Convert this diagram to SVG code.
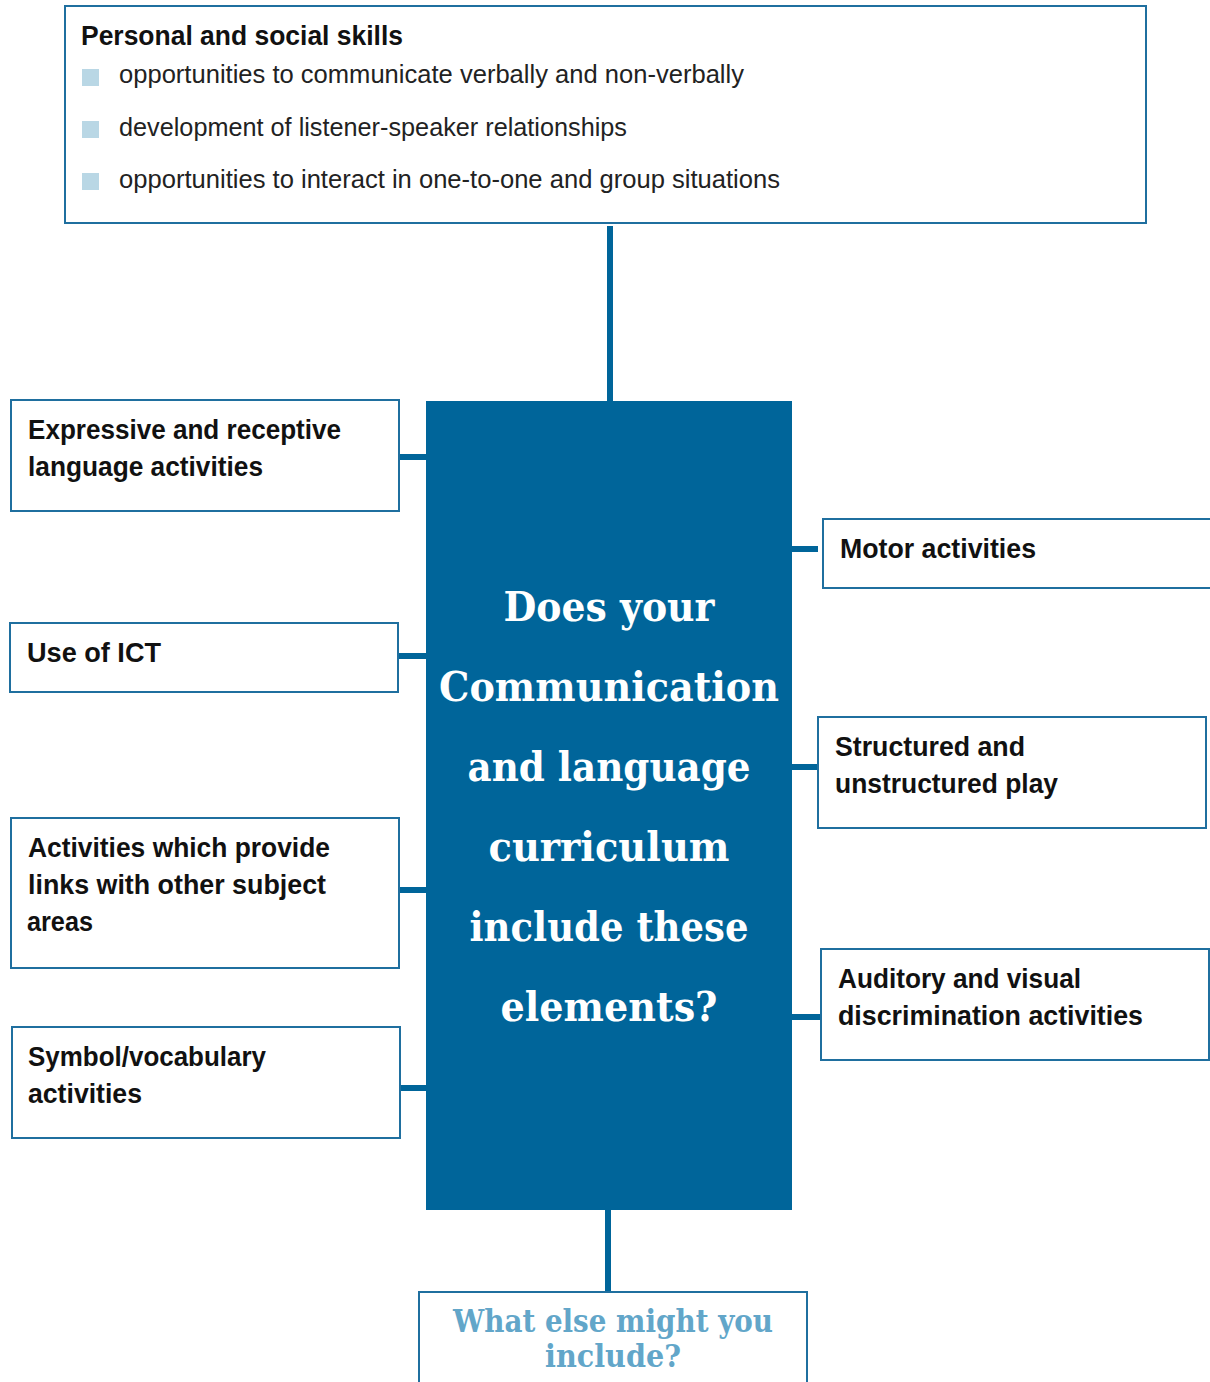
<svg xmlns="http://www.w3.org/2000/svg" width="1210" height="1382" viewBox="0 0 1210 1382">
<style>
.box{fill:#fff;stroke:#1f6f9f;stroke-width:2}
.hub{fill:#00659a}
.conn{stroke:#00659a;stroke-width:6;fill:none}
.lbl{font-family:"Liberation Sans",Arial,sans-serif;font-weight:bold;font-size:27.5px;fill:#111}
.reg{font-family:"Liberation Sans",Arial,sans-serif;font-size:26px;fill:#222}
.bul{fill:#b9d7e5}
.q{font-family:"DejaVu Serif","Liberation Serif",serif;font-weight:bold;font-size:41px;fill:#fff;text-anchor:middle}
.q2{font-family:"DejaVu Serif","Liberation Serif",serif;font-weight:bold;font-size:31px;fill:#62a6c9;text-anchor:middle}
</style>
<g id="connectors">
<line class="conn" x1="610" y1="226" x2="610" y2="402" stroke-width="7"/>
<line class="conn" x1="399" y1="457" x2="427" y2="457"/>
<line class="conn" x1="398" y1="656" x2="427" y2="656"/>
<line class="conn" x1="399" y1="890" x2="427" y2="890"/>
<line class="conn" x1="400" y1="1088" x2="427" y2="1088"/>
<line class="conn" x1="791" y1="549" x2="818" y2="549"/>
<line class="conn" x1="791" y1="767" x2="818" y2="767"/>
<line class="conn" x1="791" y1="1017" x2="821" y2="1017"/>
<line class="conn" x1="608" y1="1209" x2="608" y2="1294" stroke-width="7"/>
</g>
<g id="personal">
<rect class="box" x="65" y="6" width="1081" height="217"/>
<text class="lbl" x="81" y="45" textLength="322" lengthAdjust="spacingAndGlyphs">Personal and social skills</text>
<rect class="bul" x="82" y="69" width="17" height="17"/>
<text class="reg" x="119" y="83" textLength="625" lengthAdjust="spacingAndGlyphs">opportunities to communicate verbally and non-verbally</text>
<rect class="bul" x="82" y="121" width="17" height="17"/>
<text class="reg" x="119" y="136" textLength="508" lengthAdjust="spacingAndGlyphs">development of listener-speaker relationships</text>
<rect class="bul" x="82" y="173" width="17" height="17"/>
<text class="reg" x="119" y="188" textLength="661" lengthAdjust="spacingAndGlyphs">opportunities to interact in one-to-one and group situations</text>
</g>
<g id="hub">
<rect class="hub" x="426" y="401" width="366" height="809"/>
<text class="q" x="609" y="621" textLength="211" lengthAdjust="spacingAndGlyphs">Does your</text>
<text class="q" x="609" y="701" textLength="340" lengthAdjust="spacingAndGlyphs">Communication</text>
<text class="q" x="609" y="781" textLength="283" lengthAdjust="spacingAndGlyphs">and language</text>
<text class="q" x="609" y="861" textLength="241" lengthAdjust="spacingAndGlyphs">curriculum</text>
<text class="q" x="609" y="941" textLength="279" lengthAdjust="spacingAndGlyphs">include these</text>
<text class="q" x="609" y="1021" textLength="217" lengthAdjust="spacingAndGlyphs">elements?</text>
</g>
<g id="expressive">
<rect class="box" x="11" y="400" width="388" height="111"/>
<text class="lbl" x="28" y="439" textLength="313" lengthAdjust="spacingAndGlyphs">Expressive and receptive</text>
<text class="lbl" x="28" y="476" textLength="235" lengthAdjust="spacingAndGlyphs">language activities</text>
</g>
<g id="ict">
<rect class="box" x="10" y="623" width="388" height="69"/>
<text class="lbl" x="27" y="662" textLength="134" lengthAdjust="spacingAndGlyphs">Use of ICT</text>
</g>
<g id="links">
<rect class="box" x="11" y="818" width="388" height="150"/>
<text class="lbl" x="28" y="857" textLength="302" lengthAdjust="spacingAndGlyphs">Activities which provide</text>
<text class="lbl" x="28" y="894" textLength="298" lengthAdjust="spacingAndGlyphs">links with other subject</text>
<text class="lbl" x="27" y="931" textLength="66" lengthAdjust="spacingAndGlyphs">areas</text>
</g>
<g id="symbol">
<rect class="box" x="12" y="1027" width="388" height="111"/>
<text class="lbl" x="28" y="1066" textLength="238" lengthAdjust="spacingAndGlyphs">Symbol/vocabulary</text>
<text class="lbl" x="28" y="1103" textLength="114" lengthAdjust="spacingAndGlyphs">activities</text>
</g>
<g id="motor">
<rect class="box" x="823" y="519" width="392" height="69"/>
<text class="lbl" x="840" y="558" textLength="196" lengthAdjust="spacingAndGlyphs">Motor activities</text>
</g>
<g id="play">
<rect class="box" x="818" y="717" width="388" height="111"/>
<text class="lbl" x="835" y="756" textLength="190" lengthAdjust="spacingAndGlyphs">Structured and</text>
<text class="lbl" x="835" y="793" textLength="223" lengthAdjust="spacingAndGlyphs">unstructured play</text>
</g>
<g id="auditory">
<rect class="box" x="821" y="949" width="388" height="111"/>
<text class="lbl" x="838" y="988" textLength="243" lengthAdjust="spacingAndGlyphs">Auditory and visual</text>
<text class="lbl" x="838" y="1025" textLength="305" lengthAdjust="spacingAndGlyphs">discrimination activities</text>
</g>
<g id="else">
<rect class="box" x="419" y="1292" width="388" height="100"/>
<text class="q2" x="613" y="1332" textLength="320" lengthAdjust="spacingAndGlyphs">What else might you</text>
<text class="q2" x="613" y="1367" textLength="136" lengthAdjust="spacingAndGlyphs">include?</text>
</g>
</svg>
